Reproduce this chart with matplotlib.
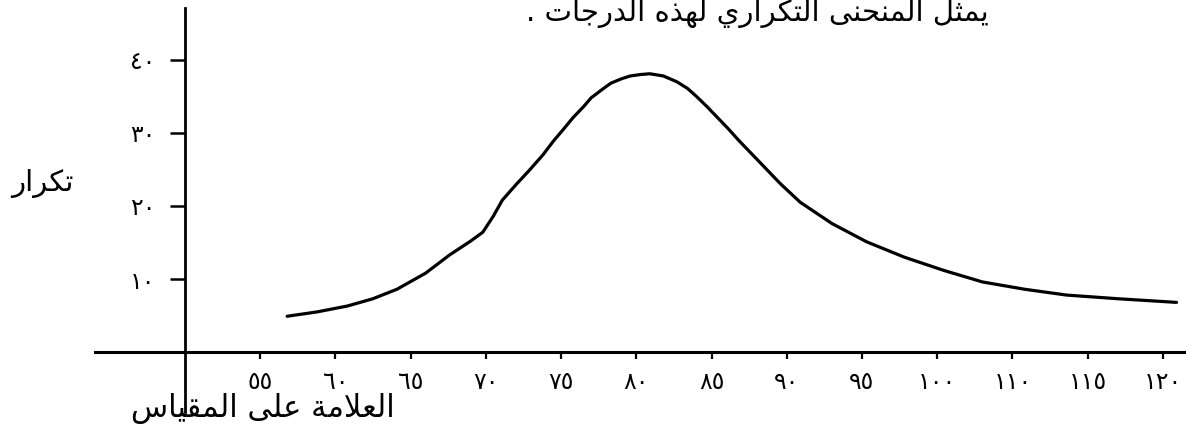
import matplotlib
matplotlib.use("Agg")
import matplotlib.pyplot as plt

# score on the scale (x) and frequency (y)
scores = [56.8, 58.8, 60.8, 62.5, 64.1, 66.0, 67.6, 69.0, 69.8, 70.5, 71.1,
          72.0, 72.9, 73.8, 74.5, 75.2, 75.8, 76.5, 77.0, 77.7, 78.3, 79.0,
          79.6, 80.3, 80.9, 81.8, 82.7, 83.4, 84.0, 84.7, 85.4, 86.1, 86.8,
          87.5, 88.2, 88.9, 89.6, 90.9, 93.0, 95.3, 97.8, 100.4, 103.0,
          105.8, 108.6, 112.0, 115.9]
freqs = [4.9, 5.5, 6.3, 7.3, 8.6, 10.8, 13.3, 15.2, 16.4, 18.6, 20.8,
         22.9, 24.9, 27.0, 28.9, 30.6, 32.1, 33.6, 34.8, 35.9, 36.8, 37.4,
         37.8, 38.0, 38.1, 37.8, 37.0, 36.1, 35.0, 33.6, 32.1, 30.6, 29.0,
         27.5, 26.0, 24.5, 23.0, 20.5, 17.6, 15.1, 13.0, 11.2, 9.6,
         8.6, 7.8, 7.3, 6.8]

x_ticks = [55, 60, 65, 70, 75, 80, 85, 90, 95, 100, 105, 110, 115]
x_labels = ["٥٥", "٦٠", "٦٥", "٧٠", "٧٥", "٨٠", "٨٥", "٩٠", "٩٥",
            "١٠٠", "١١٠", "١١٥", "١٢٠"]
y_ticks = [10, 20, 30, 40]
y_labels = ["١٠", "٢٠", "٣٠", "٤٠"]

# arabic text in presentation forms, visual (left to right) order,
# since matplotlib does no shaping / bidi itself
title_txt = ("\u002e \uFE95\uFE8E\uFE9F\uFEAD\uFEAA\uFEDF\uFE8D "
             "\uFEE9\uFEAC\uFEEC\uFEDF "
             "\uFEF1\uFEAD\uFE8D\uFEAE\uFEDC\uFE98\uFEDF\uFE8D "
             "\uFEF0\uFEE8\uFEA4\uFEE8\uFEE4\uFEDF\uFE8D "
             "\uFEDE\uFE9C\uFEE4\uFEF3")
ylabel_txt = "\uFEAD\uFE8D\uFEAE\uFEDC\uFE97"  # تكرار
xlabel_txt = ("\uFEB1\uFE8E\uFEF4\uFED8\uFEE4\uFEDF\uFE8D "
              "\uFEF0\uFEE0\uFECB "
              "\uFE94\uFEE3\uFEFC\uFECC\uFEDF\uFE8D")  # العلامة على المقياس

plt.rcParams['font.family'] = ['DejaVu Sans']

fig = plt.figure(figsize=(11.86, 4.47), dpi=100)
ax = fig.add_axes([0, 0, 1, 1])
ax.set_xlim(37.72, 116.53)
ax.set_ylim(-13.0, 48.2)

ax.plot(scores, freqs, color="black", lw=2.3, solid_capstyle="round",
        solid_joinstyle="round")

for s in ["top", "right"]:
    ax.spines[s].set_visible(False)
ax.spines["left"].set_position(("data", 50))
ax.spines["bottom"].set_position(("data", 0))
ax.spines["left"].set_bounds(-8.2, 47.1)
ax.spines["bottom"].set_bounds(44.0, 116.53)
ax.spines["left"].set_linewidth(2.0)
ax.spines["bottom"].set_linewidth(2.2)

ax.set_xticks(x_ticks)
ax.set_xticklabels(x_labels, fontsize=17)
ax.set_yticks(y_ticks)
ax.set_yticklabels(y_labels, fontsize=17)
ax.tick_params(axis="x", direction="out", length=5, width=1.6, pad=8)
ax.tick_params(axis="y", direction="out", length=11, width=1.8, pad=10)

fig.text(757 / 1186, 1 - 13 / 447, title_txt, fontsize=21, ha="center", va="center")
fig.text(42 / 1186, 1 - 183 / 447, ylabel_txt, fontsize=21, ha="center", va="center")
fig.text(263 / 1186, 1 - 408 / 447, xlabel_txt, fontsize=22, ha="center", va="center")

fig.savefig("out.png", dpi=100)
